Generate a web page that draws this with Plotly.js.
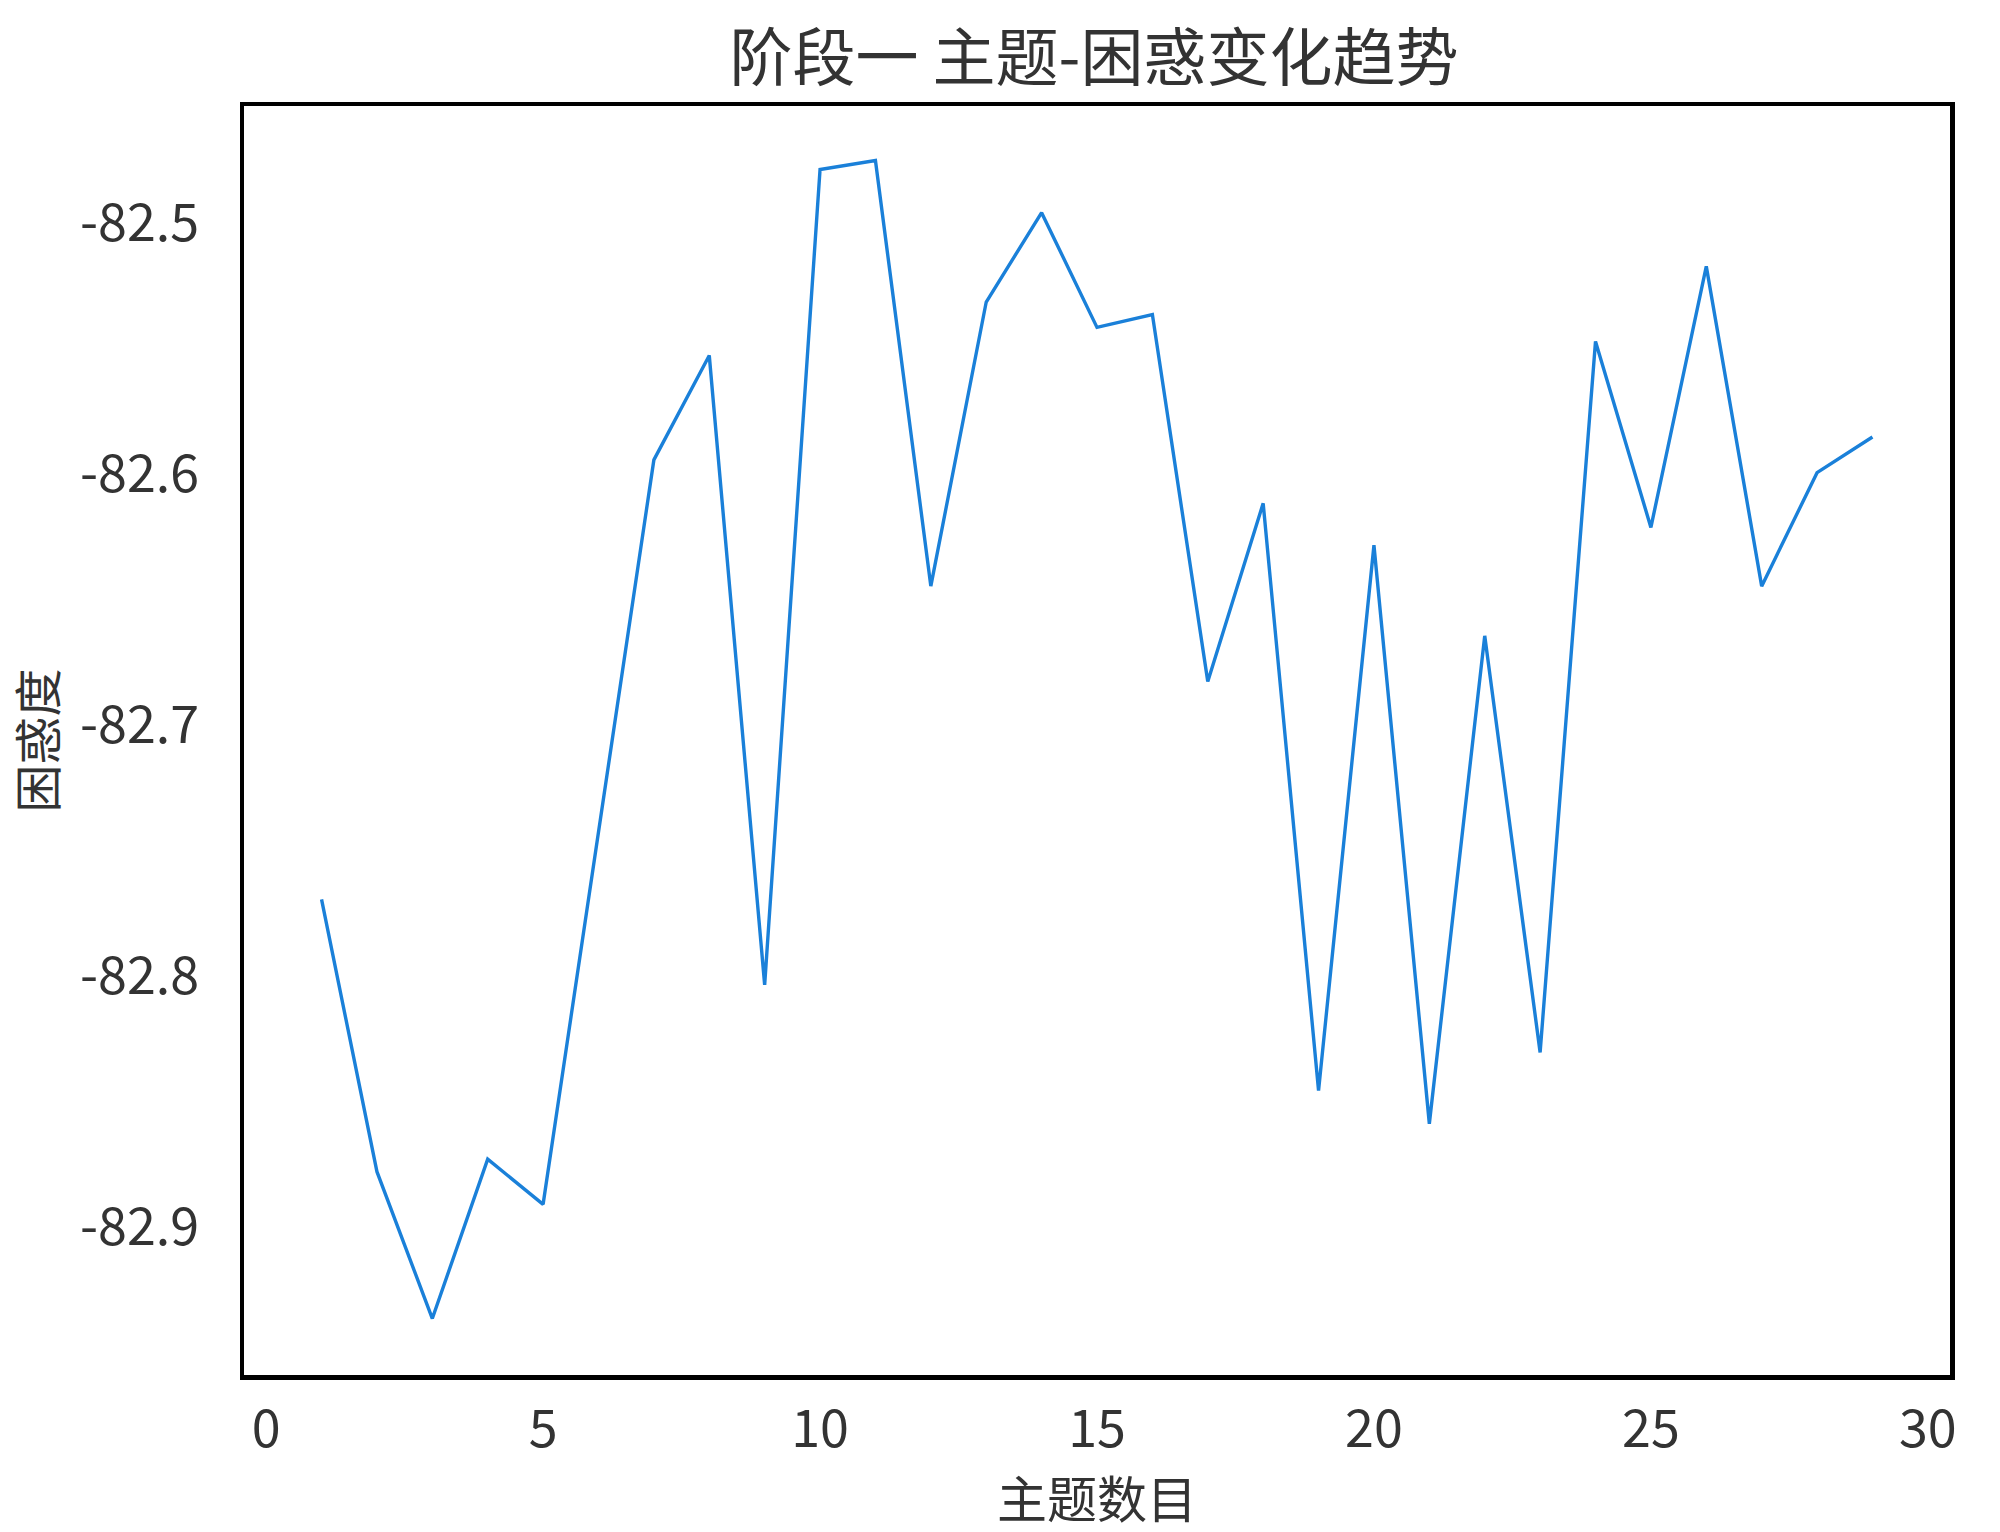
<!DOCTYPE html>
<html>
<head>
<meta charset="utf-8">
<script src="https://cdn.plot.ly/plotly-3.0.1.min.js"></script>
<style>html,body{margin:0;padding:0;background:#fff;}#chart{width:2000px;height:1532px;}</style>
</head>
<body>
<div id="chart"></div>
<script>
const topicCounts = [1,2,3,4,5,6,7,8,9,10,11,12,13,14,15,16,17,18,19,20,21,22,23,24,25,26,27,28,29];
const perplexity = [-82.7695,-82.878,-82.9365,-82.873,-82.891,-82.7437,-82.5944,-82.5528,-82.8036,-82.4787,
  -82.4751,-82.6447,-82.5315,-82.4959,-82.5416,-82.5365,-82.6827,-82.6117,-82.8457,-82.6284,
  -82.8589,-82.6645,-82.8305,-82.5472,-82.6213,-82.5173,-82.6447,-82.5995,-82.5853];
const xTicks = [0,5,10,15,20,25,30];
const yTicks = [-82.9,-82.8,-82.7,-82.6,-82.5];
const titleText = '阶段一 主题-困惑变化趋势';
const xTitle = '主题数目';
const yTitle = '困惑度';

const font = '"Noto Sans CJK SC", "Noto Sans", sans-serif';
const textColor = '#333333';

Plotly.newPlot('chart', [{
  x: topicCounts, y: perplexity, type: 'scatter', mode: 'lines',
  line: {color: '#1a80d9', width: 3.4}, hoverinfo: 'x+y'
}], {
  width: 2000, height: 1532,
  paper_bgcolor: '#ffffff', plot_bgcolor: '#ffffff',
  margin: {l: 244, r: 50, t: 106, b: 157},
  showlegend: false,
  title: {text: titleText, font: {family: font, size: 63, color: textColor}, x: 0.547, xanchor: 'center', y: 0.962, yanchor: 'middle'},
  xaxis: {
    range: [-0.4, 30.4], tickvals: xTicks, ticktext: xTicks.map(String),
    showgrid: false, zeroline: false, ticks: '',
    showline: true, mirror: true, linecolor: '#000000', linewidth: 4.5,
    ticklabelstandoff: 5,
    tickfont: {family: font, size: 52, color: textColor},
    title: {text: xTitle, font: {family: font, size: 50, color: textColor}, standoff: 4}
  },
  yaxis: {
    range: [-82.959, -82.4534], tickvals: yTicks, ticktext: yTicks.map(v => v.toFixed(1)),
    showgrid: false, zeroline: false, ticks: '',
    showline: true, mirror: true, linecolor: '#000000', linewidth: 4.5,
    ticklabelstandoff: 30,
    tickfont: {family: font, size: 52, color: textColor},
    title: {text: yTitle, font: {family: font, size: 48, color: textColor}, standoff: 14}
  }
}, {displayModeBar: false, staticPlot: true});
</script>
</body>
</html>
